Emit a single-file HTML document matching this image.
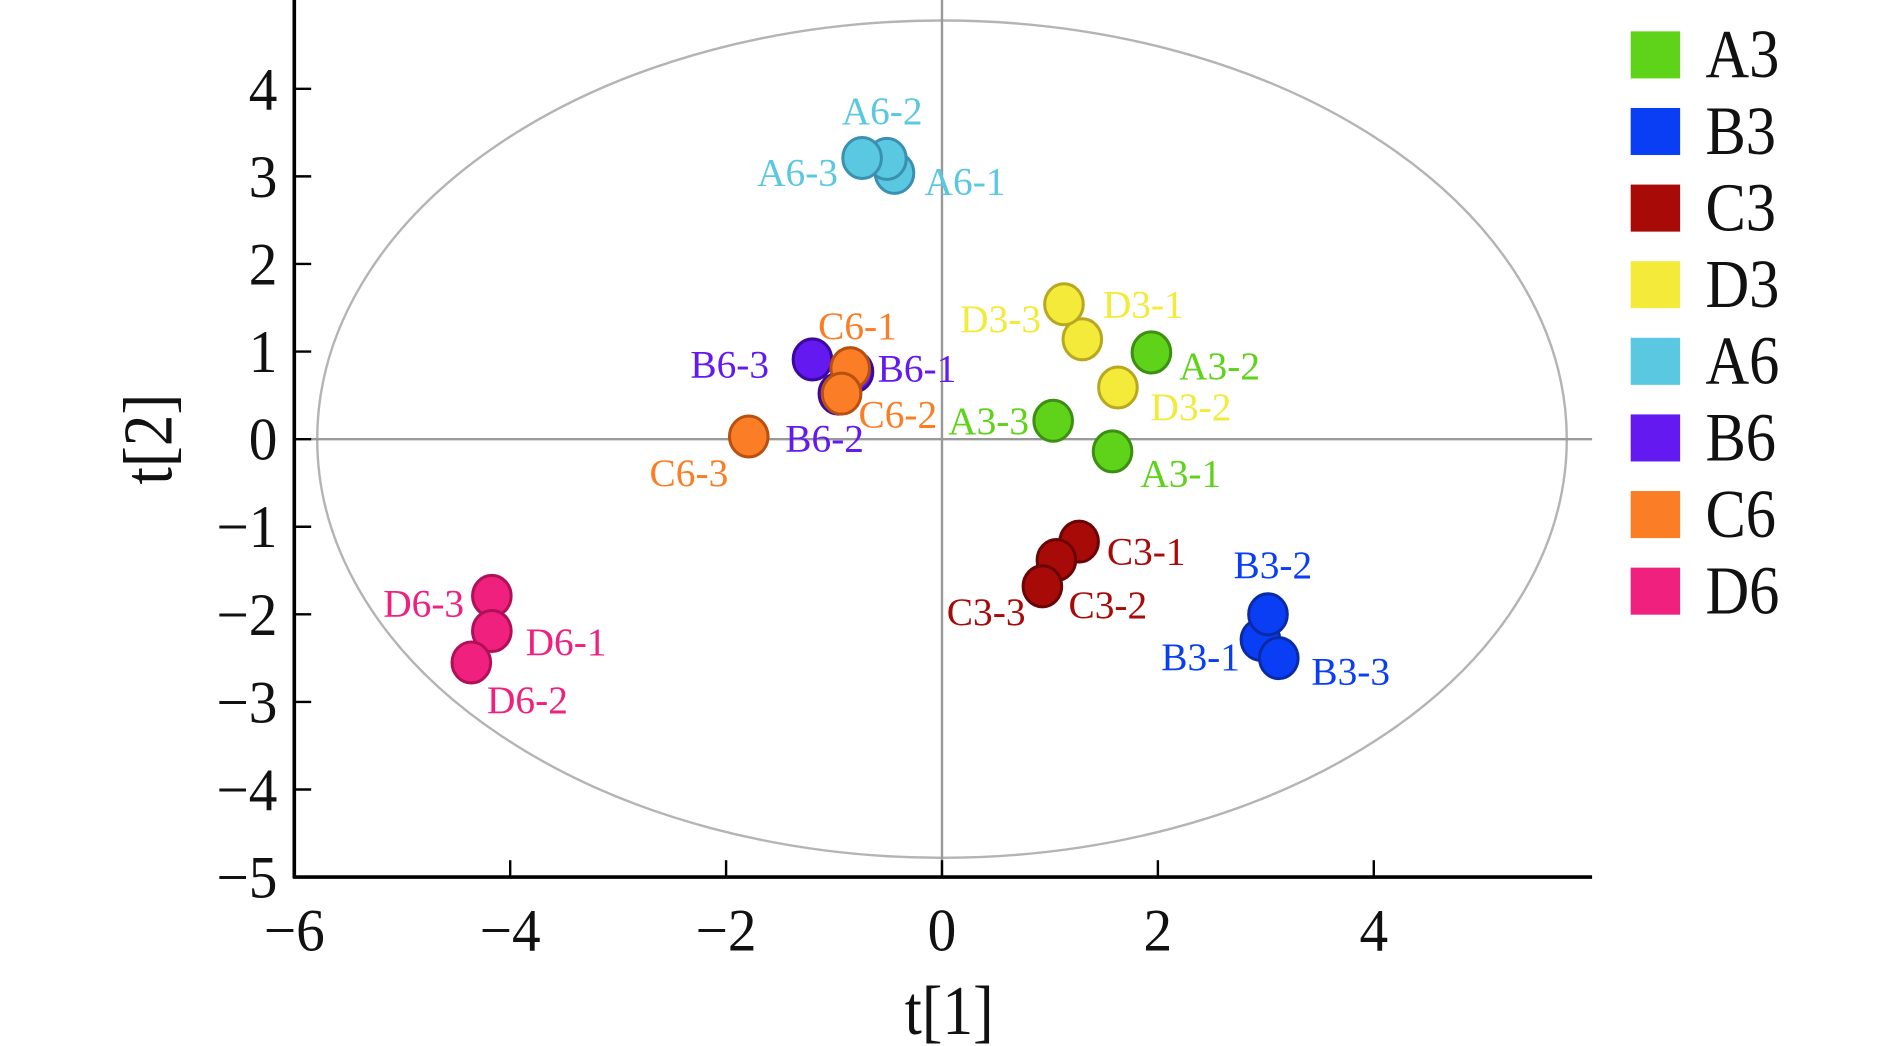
<!DOCTYPE html>
<html><head><meta charset="utf-8"><style>
html,body{margin:0;padding:0;background:#fff;}
svg{display:block;font-family:"Liberation Serif",serif;}
</style></head><body>
<svg id="chart" width="1890" height="1046" viewBox="0 0 1567 867" preserveAspectRatio="none" xmlns="http://www.w3.org/2000/svg"></svg>
<script>
const groups = ['A3','B3','C3','D3','A6','B6','C6','D6'];
const groupColors = ['#5fd21a','#0a3ef5','#a80a08','#f3ea3a','#5ac8e0','#6319f0','#fb7d26','#f0207f'];
const groupStrokes = ['#3c8f10','#0a2aa8','#6a0505','#b8a820','#3a90b0','#3a0aa0','#b85010','#b01058'];
const sampleNames = ['A3-1','A3-2','A3-3','B3-1','B3-2','B3-3','C3-1','C3-2','C3-3','D3-1','D3-2','D3-3','A6-1','A6-2','A6-3','B6-1','B6-2','B6-3','C6-1','C6-2','C6-3','D6-1','D6-2','D6-3'];
const sampleGroup = [0,0,0,1,1,1,2,2,2,3,3,3,4,4,4,5,5,5,6,6,6,7,7,7];
const t1Values = [1.58,1.94,1.03,2.95,3.02,3.12,1.27,1.06,0.93,1.30,1.63,1.13,-0.44,-0.51,-0.74,-0.82,-0.96,-1.20,-0.85,-0.93,-1.79,-4.17,-4.36,-4.17];
const t2Values = [-0.14,0.99,0.21,-2.29,-2.00,-2.50,-1.17,-1.38,-1.68,1.14,0.59,1.54,3.04,3.20,3.21,0.77,0.52,0.91,0.81,0.52,0.03,-2.19,-2.55,-1.79];
const xTicks = [-6,-4,-2,0,2,4];
const yTicks = [4,3,2,1,0,-1,-2,-3,-4,-5];
// label placement (offsets in px, not data)
const labelDx = [23,23,-20,-17,4,27,23,10,-14,17,27,-19,25,-4,-20,20,-44,-36,6,14,-17,28,13,-23];
const labelDy = [18,11,0,14,-41,11,8,37,21,-29,16,12,7,-40,12,-3,37,4,-35,17,30,9,31,6];
const labelAnchor = ['start','start','end','end','middle','start','start','start','end','start','start','end','start','middle','end','start','start','end','middle','start','end','start','start','end'];
const drawOrder = [12,13,14,17,15,16,18,19,20,9,10,11,0,1,2,6,7,8,3,4,5,23,21,22];

const NS='http://www.w3.org/2000/svg';
const svg=document.getElementById('chart');
const PX=89.5,Y0=364,PY=72.6;
const sx=v=>244+(v+6)*PX;
const sy=v=>Y0-v*PY;
function mk(tag,attrs,parent){const e=document.createElementNS(NS,tag);for(const k in attrs)e.setAttribute(k,attrs[k]);(parent||svg).appendChild(e);return e;}
function txt(x,y,size,anchor,fill,s,kx){const t=mk('text',{x:0,y:0,'font-size':size,'text-anchor':anchor,fill:fill,transform:'translate('+x+','+y+') scale('+(kx||0.88)+',1)'});t.textContent=s;return t;}
const xAx=sx(-6), yBot=sy(-5), xRight=1320;

let e;
e=mk('ellipse',{cx:sx(0),cy:sy(0),rx:518,ry:347,fill:'none',stroke:'#b4b4b4','stroke-width':2});


e=mk('line',{x1:xAx,x2:xRight,y1:sy(0),y2:sy(0),stroke:'#999','stroke-width':2});


e=mk('line',{x1:sx(0),x2:sx(0),y1:0,y2:yBot,stroke:'#999','stroke-width':2});


e=mk('line',{x1:xAx,x2:xAx,y1:0,y2:yBot+1,stroke:'#000','stroke-width':3});


e=mk('line',{x1:xAx-1,x2:xRight,y1:yBot,y2:yBot,stroke:'#000','stroke-width':3});



xTicks.forEach(v=>{
  const t=mk('line',{x1:sx(v),x2:sx(v),y1:yBot,y2:yBot-14,stroke:'#000','stroke-width':2});
  
  
  const l=txt(sx(v),yBot+61,50,'middle','#111',(v<0?'\u2212'+(-v):''+v),0.95);
  
  
});
yTicks.forEach(v=>{
  const t=mk('line',{x1:xAx,x2:xAx+14,y1:sy(v),y2:sy(v),stroke:'#000','stroke-width':2});
  
  
  const l=txt(xAx-14,sy(v)+17,50,'end','#111',(v<0?'\u2212'+(-v):''+v),0.95);
  
  
});
e=txt(sx(0)+6,857,58,'middle','#111','t[1]');


e=mk('text',{x:0,y:0,'text-anchor':'middle','font-size':58,fill:'#111',transform:'translate(142,364) rotate(-90) scale(0.9,1)'});
e.textContent='t[2]';



drawOrder.forEach(i=>{
  const g=sampleGroup[i];
  const c=mk('ellipse',{cx:sx(t1Values[i]),cy:sy(t2Values[i]),rx:16,ry:17,fill:groupColors[g],stroke:groupStrokes[g],'stroke-width':2.5});
  
  
});
sampleNames.forEach((n,i)=>{
  const g=sampleGroup[i];
  const t=txt(sx(t1Values[i])+labelDx[i],sy(t2Values[i])+labelDy[i]+11,32,labelAnchor[i],groupColors[g],n,1.02);
  
  
});
groups.forEach((n,k)=>{
  const cy=45+k*63.5;
  const r=mk('rect',{x:1352,y:cy-19,width:41,height:39,fill:groupColors[k]});
  
  
  const t=txt(1414,cy+19,57,'start','#111',n);
  
  
});
</script>
</body></html>
